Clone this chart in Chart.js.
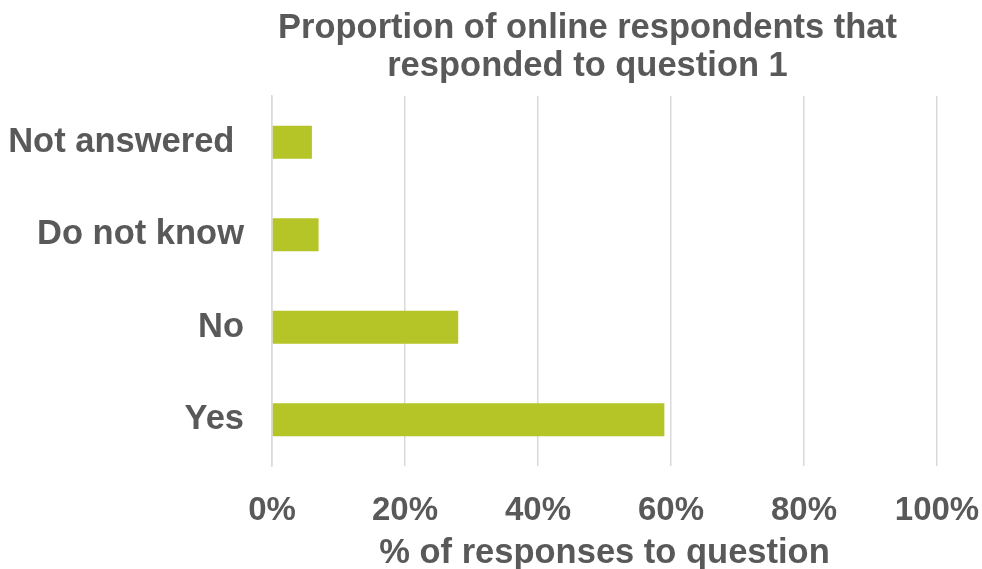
<!DOCTYPE html>
<html>
<head>
<meta charset="utf-8">
<script src="https://cdn.jsdelivr.net/npm/chart.js@4.4.1/dist/chart.umd.min.js"></script>
<style>
  html, body { margin: 0; padding: 0; background: #fff; }
  #wrap { width: 982px; height: 569px; }
</style>
</head>
<body>
<div id="wrap"><canvas id="bar-chart" width="982" height="569"></canvas></div>
<script>
Chart.defaults.font.family = '"Liberation Sans", Arial, sans-serif';
Chart.defaults.font.weight = 'bold';
Chart.defaults.color = '#595959';

// categorias de arriba hacia abajo
const answers = ['Not answered ', 'Do not know', 'No', 'Yes'];
const percentages = [6, 7, 28, 59];
const tickValues = [0, 20, 40, 60, 80, 100];

// el titulo original no esta centrado sobre el area del grafico, se corre un poco a la izquierda
const titleShift = {
    id: 'titleShift',
    afterLayout: chart => {
        chart.titleBlock.left -= 34;
    }
};

new Chart(document.getElementById('bar-chart'), {
    type: 'bar',
    data: {
        labels: answers,
        datasets: [
            {
                label: '% of responses',
                backgroundColor: '#b5c426',
                data: percentages,
                categoryPercentage: 1,
                barPercentage: 0.357
            }
        ]
    },
    options: {
        indexAxis: 'y',
        responsive: false,
        animation: false,
        layout: { padding: { left: 8, right: 8, top: 0, bottom: 0 } },
        plugins: {
            legend: { display: false },
            tooltip: { enabled: false },
            title: {
                display: true,
                text: ['Proportion of online respondents that', 'responded to question 1'],
                font: { size: 34.5, weight: 'bold', lineHeight: 1.1 },
                color: '#595959',
                fullSize: false,
                padding: { top: 10, bottom: 10 }
            }
        },
        scales: {
            x: {
                min: 0,
                max: 100,
                afterBuildTicks: axis => {
                    axis.ticks = tickValues.map(v => ({ value: v }));
                },
                // alto fijo del eje y margen derecho para que coincida con el original
                afterFit: axis => {
                    axis.height = 103;
                    axis.paddingLeft = 0;
                    axis.paddingRight = 45;
                },
                grid: { color: '#d9d9d9', lineWidth: 1.5, drawTicks: false },
                border: { display: false },
                ticks: {
                    padding: 25,
                    font: { size: 33 },
                    callback: v => v + '%'
                },
                title: {
                    display: true,
                    text: '% of responses to question',
                    font: { size: 34.5, lineHeight: 0.9 },
                    padding: { top: 6, bottom: 0 }
                }
            },
            y: {
                afterFit: axis => {
                    axis.width = 264;
                },
                grid: { display: false, drawTicks: false },
                border: { color: '#d9d9d9', width: 1.5 },
                ticks: {
                    padding: 28,
                    font: { size: 34.5 }
                }
            }
        }
    },
    plugins: [titleShift]
});
</script>
</body>
</html>
